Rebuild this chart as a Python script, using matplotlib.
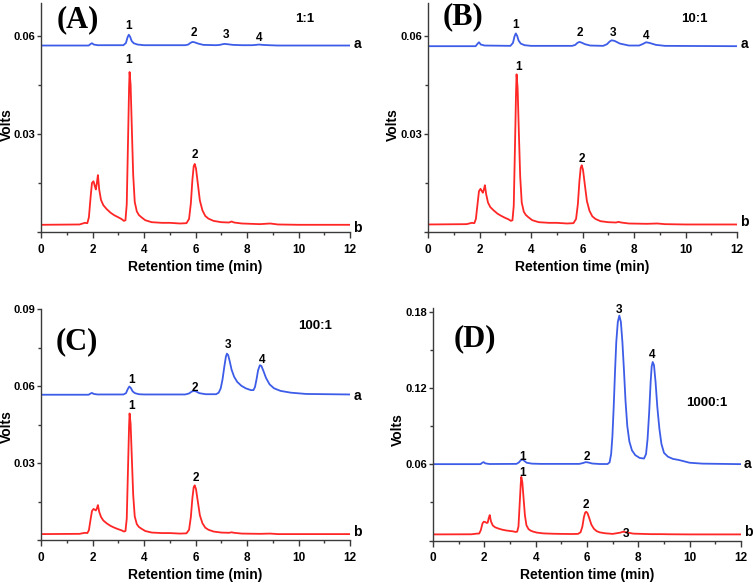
import matplotlib
matplotlib.use("Agg")
import matplotlib.pyplot as plt
from matplotlib.ticker import FixedLocator, FuncFormatter

plt.rcParams['font.family'] = ['Liberation Sans', 'DejaVu Sans']
plt.rcParams['font.weight'] = 'bold'

BLUE = '#3d5de8'
RED = '#ff2626'
AXC = '#3a3a3a'

# ---- data (time in min, signal in V) ----
red_t = [0, 1.5, 1.7, 1.8, 1.86, 1.93, 1.98, 2.04, 2.09, 2.13,
         2.17, 2.21, 2.26, 2.33, 2.42, 2.55, 2.7, 2.85, 3.0, 3.12,
         3.22, 3.28, 3.33, 3.38, 3.42, 3.44, 3.48, 3.53, 3.58, 3.64,
         3.72, 3.8, 3.9, 4.05, 4.3, 4.7, 5.0, 5.4, 5.65, 5.75,
         5.82, 5.88, 5.93, 5.97, 6.02, 6.09, 6.17, 6.27, 6.38, 6.5,
         6.7, 7.0, 7.3, 7.4, 7.5, 7.8, 8.5, 8.9, 9.2, 10, 12]

A_red = [0.0022, 0.0023, 0.0028, 0.0027, 0.0045, 0.0110, 0.0150, 0.0155, 0.0140, 0.0130,
         0.0150, 0.0174, 0.0130, 0.0098, 0.0082, 0.0070, 0.0059, 0.0051, 0.0045, 0.0040,
         0.0034, 0.0036, 0.0085, 0.0280, 0.0440, 0.0489, 0.0450, 0.0310, 0.0175, 0.0092,
         0.0063, 0.0052, 0.0045, 0.0036, 0.0030, 0.0028, 0.0028, 0.0026, 0.0027, 0.0040,
         0.0088, 0.0160, 0.0201, 0.0208, 0.0194, 0.0148, 0.0096, 0.0066, 0.0049, 0.0041,
         0.0034, 0.0030, 0.0029, 0.0032, 0.0029, 0.0026, 0.0024, 0.0026, 0.0023, 0.0022,
         0.0022]
B_red = [0.0023, 0.0024, 0.0028, 0.0027, 0.0040, 0.0090, 0.0125, 0.0132, 0.0125, 0.0120,
         0.0130, 0.0143, 0.0115, 0.0090, 0.0076, 0.0066, 0.0056, 0.0049, 0.0043, 0.0039,
         0.0034, 0.0036, 0.0080, 0.0270, 0.0430, 0.0482, 0.0440, 0.0300, 0.0170, 0.0090,
         0.0062, 0.0052, 0.0045, 0.0036, 0.0030, 0.0028, 0.0028, 0.0026, 0.0027, 0.0040,
         0.0085, 0.0155, 0.0196, 0.0204, 0.0190, 0.0145, 0.0095, 0.0065, 0.0048, 0.0040,
         0.0033, 0.0030, 0.0029, 0.0031, 0.0029, 0.0026, 0.0025, 0.0026, 0.0024, 0.0023,
         0.0023]
C_red = [0.0023, 0.0024, 0.0028, 0.0027, 0.0038, 0.0083, 0.0113, 0.0121, 0.0118, 0.0115,
         0.0123, 0.0136, 0.0110, 0.0090, 0.0076, 0.0065, 0.0055, 0.0048, 0.0042, 0.0038,
         0.0033, 0.0035, 0.0083, 0.0283, 0.0443, 0.0493, 0.0453, 0.0313, 0.0176, 0.0092,
         0.0062, 0.0051, 0.0044, 0.0035, 0.0029, 0.0027, 0.0027, 0.0025, 0.0026, 0.0040,
         0.0090, 0.0164, 0.0206, 0.0213, 0.0198, 0.0150, 0.0096, 0.0065, 0.0048, 0.0040,
         0.0033, 0.0029, 0.0028, 0.0030, 0.0028, 0.0025, 0.0024, 0.0025, 0.0023, 0.0023,
         0.0023]
D_red = [0.0048, 0.0049, 0.0054, 0.0055, 0.0080, 0.0135, 0.0148, 0.0145, 0.0138, 0.0140,
         0.0175, 0.0200, 0.0150, 0.0118, 0.0104, 0.0094, 0.0085, 0.0079, 0.0075, 0.0072,
         0.0067, 0.0070, 0.0110, 0.0300, 0.0450, 0.0501, 0.0460, 0.0330, 0.0200, 0.0120,
         0.0090, 0.0078, 0.0070, 0.0062, 0.0056, 0.0053, 0.0052, 0.0051, 0.0052, 0.0065,
         0.0110, 0.0185, 0.0220, 0.0226, 0.0215, 0.0175, 0.0125, 0.0092, 0.0073, 0.0064,
         0.0057, 0.0052, 0.0062, 0.0069, 0.0066, 0.0054, 0.0050, 0.0050, 0.0049, 0.0048,
         0.0048]

blue_t = [0, 1.85, 1.93, 1.98, 2.05, 2.2, 3.2, 3.3, 3.36, 3.41,
          3.46, 3.52, 3.6, 3.75, 4.0, 5.6, 5.72, 5.8, 5.88, 5.96,
          6.1, 6.3, 6.8, 6.95, 7.05, 7.13, 7.25, 7.45, 7.8, 8.2,
          8.35, 8.47, 8.6, 8.85, 9.2, 12]
A_blue = [0.0570, 0.0570, 0.0575, 0.0577, 0.0573, 0.0571, 0.0571, 0.0578, 0.0595, 0.0603,
          0.0597, 0.0584, 0.0577, 0.0573, 0.0571, 0.0571, 0.0573, 0.0578, 0.0581, 0.0580,
          0.0576, 0.0572, 0.0571, 0.0572, 0.0574, 0.0575, 0.0574, 0.0572, 0.0571, 0.0571,
          0.0572, 0.0573, 0.0572, 0.0571, 0.0570, 0.0570]
B_blue = [0.0568, 0.0568, 0.0576, 0.0580, 0.0573, 0.0570, 0.0569, 0.0578, 0.0598, 0.0607,
          0.0600, 0.0585, 0.0576, 0.0571, 0.0569, 0.0569, 0.0572, 0.0578, 0.0581, 0.0579,
          0.0574, 0.0570, 0.0569, 0.0574, 0.0582, 0.0586, 0.0584, 0.0576, 0.0570, 0.0570,
          0.0575, 0.0580, 0.0578, 0.0572, 0.0569, 0.0568]

C_blue_t = [0, 1.85, 1.93, 1.98, 2.05, 2.2, 3.2, 3.3, 3.37, 3.43,
            3.49, 3.56, 3.65, 3.8, 4.0, 5.6, 5.75, 5.85, 5.93, 6.02,
            6.15, 6.4, 6.8, 6.9, 6.98, 7.05, 7.12, 7.18, 7.22, 7.27,
            7.33, 7.4, 7.5, 7.62, 7.78, 7.95, 8.15, 8.25, 8.31, 8.37,
            8.43, 8.5, 8.56, 8.64, 8.74, 8.88, 9.05, 9.3, 9.7, 10.3, 12]
C_blue = [0.0566, 0.0566, 0.0571, 0.0573, 0.0569, 0.0567, 0.0567, 0.0572, 0.0588, 0.0598,
          0.0592, 0.0579, 0.0572, 0.0568, 0.0567, 0.0567, 0.0571, 0.0578, 0.0581, 0.0579,
          0.0572, 0.0568, 0.0568, 0.0574, 0.0591, 0.0626, 0.0676, 0.0714, 0.0726, 0.0720,
          0.0696, 0.0664, 0.0636, 0.0616, 0.0601, 0.0591, 0.0584, 0.0584, 0.0596, 0.0626,
          0.0661, 0.0681, 0.0678, 0.0658, 0.0631, 0.0606, 0.0591, 0.0581, 0.0574, 0.0569,
          0.0567]

D_blue_t = [0, 1.85, 1.92, 1.97, 2.04, 2.2, 3.25, 3.35, 3.42, 3.48,
            3.55, 3.65, 3.85, 4.2, 5.7, 5.85, 5.95, 6.05, 6.2, 6.5,
            6.8, 6.88, 6.94, 6.99, 7.04, 7.09, 7.14, 7.2, 7.26, 7.32,
            7.38, 7.44, 7.5, 7.57, 7.65, 7.75, 7.88, 8.05, 8.22, 8.3,
            8.36, 8.42, 8.48, 8.52, 8.56, 8.61, 8.67, 8.74, 8.82, 8.9,
            9.0, 9.15, 9.35, 9.55, 9.75, 10.0, 10.5, 12]
D_blue = [0.0601, 0.0601, 0.0612, 0.0617, 0.0607, 0.0602, 0.0603, 0.0615, 0.0632, 0.0638,
          0.0628, 0.0612, 0.0605, 0.0603, 0.0603, 0.0610, 0.0617, 0.0614, 0.0606, 0.0602,
          0.0602, 0.0615, 0.0680, 0.0820, 0.1050, 0.1320, 0.1560, 0.1720, 0.1770, 0.1720,
          0.1560, 0.1340, 0.1100, 0.0900, 0.0780, 0.0710, 0.0672, 0.0650, 0.0645, 0.0680,
          0.0800, 0.1000, 0.1250, 0.1370, 0.1405, 0.1380, 0.1250, 0.1050, 0.0880, 0.0760,
          0.0690, 0.0660, 0.0642, 0.0635, 0.0625, 0.0612, 0.0605, 0.0601]

panel_names = ['(A)', '(B)', '(C)', '(D)']
ratios = ['1:1', '10:1', '100:1', '1000:1']

# text annotations (label, t, value) per panel
peak_labels = [
    [('1', 3.4, 0.0630), ('2', 5.94, 0.0609), ('3', 7.18, 0.0602), ('4', 8.48, 0.0592),
     ('1', 3.4, 0.0526), ('2', 5.98, 0.0235)],
    [('1', 3.39, 0.0633), ('2', 5.89, 0.0607), ('3', 7.17, 0.0607), ('4', 8.48, 0.0600),
     ('1', 3.5, 0.0505), ('2', 5.98, 0.0222)],
    [('1', 3.5, 0.0622), ('2', 5.98, 0.0592), ('3', 7.27, 0.0761), ('4', 8.57, 0.0702),
     ('1', 3.5, 0.0521), ('2', 6.02, 0.0242)],
    [('1', 3.48, 0.0661), ('2', 6.01, 0.0661), ('3', 7.23, 0.1818), ('4', 8.53, 0.146),
     ('1', 3.48, 0.053), ('2', 5.97, 0.0281), ('3', 7.53, 0.0053)],
]
ab_pos = [(0.0574, 0.0013), (0.0574, 0.0031), (0.0560, 0.0030), (0.0603, 0.0064)]
name_pos = [(1.44, 0.0650), (1.36, 0.0657), (1.39, 0.0774), (1.62, 0.159)]
ratio_pos = [(10.25, 0.0650), (10.36, 0.0650), (10.64, 0.0833), (10.65, 0.108)]

traces = [
    (blue_t, A_blue, red_t, A_red),
    (blue_t, B_blue, red_t, B_red),
    (C_blue_t, C_blue, red_t, C_red),
    (D_blue_t, D_blue, red_t, D_red),
]
ylims = [0.07, 0.07, 0.09, 0.183]
ymajor = [[0, 0.03, 0.06], [0, 0.03, 0.06], [0, 0.03, 0.06, 0.09], [0, 0.06, 0.12, 0.18]]
yminor = [[0.015, 0.045], [0.015, 0.045], [0.015, 0.045, 0.075], [0.03, 0.09, 0.15]]

W, H = 756, 586
# axes boxes in pixels: left, right, top, bottom
boxes = [(41, 350, 3, 232), (428, 737, 3, 232), (41, 350, 309, 540), (433, 741, 308, 540.5)]
ylabel_x = [-0.087, -0.091, -0.087, -0.092]
ylabel_y = [0.467, 0.467, 0.49, 0.477]
xlabel_y = [-0.122, -0.122, -0.12, -0.12]

fig = plt.figure(figsize=(W / 100, H / 100), dpi=100)

for i in range(4):
    l, r, t, b = boxes[i]
    ax = fig.add_axes([l / W, 1 - b / H, (r - l) / W, (b - t) / H])
    bt, bv, rt, rv = traces[i]
    ax.plot(bt, bv, color=BLUE, lw=1.3, solid_joinstyle='round')
    ax.plot(rt, rv, color=RED, lw=1.3, solid_joinstyle='round')
    ax.set_xlim(0, 12)
    ax.set_ylim(0, ylims[i])
    for s in ['top', 'right']:
        ax.spines[s].set_visible(False)
    for s in ['left', 'bottom']:
        ax.spines[s].set_color(AXC)
        ax.spines[s].set_linewidth(1.0)
    ax.set_xticks([0, 2, 4, 6, 8, 10, 12])
    ax.set_xticks([1, 3, 5, 7, 9, 11], minor=True)
    ax.yaxis.set_major_locator(FixedLocator(ymajor[i]))
    ax.yaxis.set_minor_locator(FixedLocator(yminor[i]))
    ax.yaxis.set_major_formatter(FuncFormatter(lambda v, p: '' if v == 0 else '%.2f' % v))
    ax.tick_params(axis='x', which='major', length=4.5, width=1, color=AXC, labelsize=8.5, pad=4)
    ax.tick_params(axis='x', which='minor', length=2.5, width=1, color=AXC)
    ax.tick_params(axis='y', which='major', length=3, width=1, color=AXC, labelsize=8, pad=1)
    ax.tick_params(axis='y', which='minor', length=2.5, width=1, color=AXC)
    for lab in ax.get_xticklabels() + ax.get_yticklabels():
        lab.set_fontweight('bold')

    ax.set_xlabel('Retention time (min)', fontsize=10, fontweight='bold')
    ax.set_ylabel('Volts', fontsize=10, fontweight='bold')
    ax.xaxis.set_label_coords(0.5, xlabel_y[i])
    ax.yaxis.set_label_coords(ylabel_x[i], ylabel_y[i])

    ax.text(name_pos[i][0], name_pos[i][1], panel_names[i], family=['Liberation Serif', 'DejaVu Serif'],
            fontsize=22, fontweight='bold', ha='center', va='center')
    ax.text(ratio_pos[i][0], ratio_pos[i][1], ratios[i], fontsize=9.5, fontweight='bold',
            ha='center', va='center')
    for lab, x, y in peak_labels[i]:
        ax.text(x, y, lab, fontsize=8.5, fontweight='bold', ha='center', va='center')
    ax.text(12.27, ab_pos[i][0], 'a', fontsize=10, fontweight='bold', ha='center', va='center', clip_on=False)
    ax.text(12.27, ab_pos[i][1], 'b', fontsize=10, fontweight='bold', ha='center', va='center', clip_on=False)

fig.savefig('out.png', dpi=100)
